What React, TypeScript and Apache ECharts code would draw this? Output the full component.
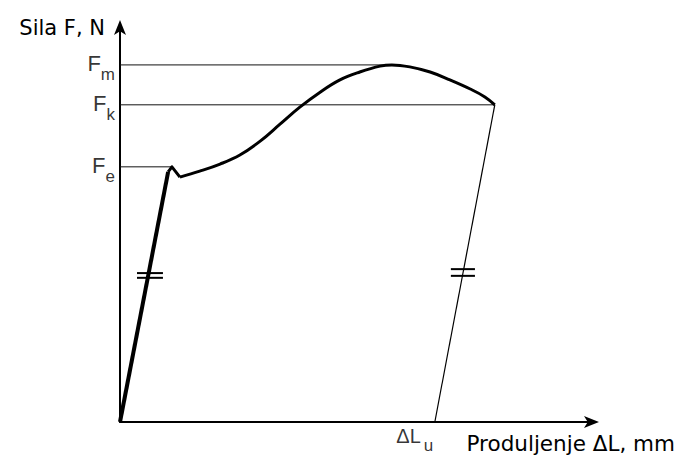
import React, { useEffect, useRef } from "react";
import * as echarts from "echarts";

// Force-elongation diagram (arbitrary units: x = elongation, y = force)
const loadX = [0, 10.2];
const loadY = [0, 63.3];
const yieldX = [10.2, 11.0, 12.7];
const yieldY = [63.3, 64.6, 62.0];
const curveX = [12.7, 16.9, 21.2, 25.4, 29.7, 33.9, 38.1, 42.4, 46.6, 50.8, 55.1, 57.6, 61.4, 65.7, 69.9, 74.2, 77.3, 79.4];
const curveY = [62.0, 63.5, 65.3, 67.6, 71.1, 75.4, 79.7, 83.5, 86.6, 88.6, 90.1, 90.4, 89.9, 88.6, 86.6, 84.3, 82.3, 80.3];
const levelSubs = ["m", "k", "e"];
const levelValues = [90.4, 80.3, 64.6];
const levelEndX = [57.6, 79.4, 11.0];
const unloadX = [79.4, 66.7];
const unloadY = [80.3, 0];
const residualLabel = ["ΔL", "u"];
const loadTickX = [3.6, 9.1];
const loadTickY = [37.7, 36.5];
const unloadTickX = [70.1, 75.2];
const unloadTickY = [38.7, 37.0];
const xAxisName = "Produljenje ΔL, mm";
const yAxisName = "Sila F, N";

const FONT = "Liberation Sans";
const NAME_FONT = "DejaVu Sans";

export default function App() {
  const ref = useRef<HTMLDivElement>(null);
  useEffect(() => {
    if (!ref.current) return;
    const chart = echarts.init(ref.current, null, { renderer: "svg" });
    const zip = (xs: number[], ys: number[]) => xs.map((x, i) => [x, ys[i]]);
    const series: any[] = [];
    levelValues.forEach((v, i) => {
      series.push({
        type: "line",
        data: [[0, v], [levelEndX[i], v]],
        symbol: "none",
        lineStyle: { color: "#111", width: 1 },
        z: 1,
      });
      series.push({
        type: "scatter",
        data: [[0, v]],
        symbolSize: 0,
        label: {
          show: true,
          position: "left",
          distance: 5,
          offset: [0, 3],
          fontFamily: FONT,
          fontSize: 22,
          color: "#000",
          formatter: "{a|F}{b|" + levelSubs[i] + "}",
          rich: {
            a: { fontFamily: FONT, fontSize: 22, color: "#000", verticalAlign: "bottom", padding: [0, 0, 8, 0] },
            b: { fontFamily: FONT, fontSize: 17, color: "#000", verticalAlign: "bottom" },
          },
        },
      });
    });
    series.push({
      type: "line",
      data: zip(loadX, loadY),
      symbol: "none",
      lineStyle: { color: "#000", width: 4 },
      z: 3,
    });
    series.push({
      type: "line",
      data: zip(yieldX, yieldY),
      symbol: "none",
      lineStyle: { color: "#000", width: 3, join: "round" },
      z: 3,
    });
    series.push({
      type: "line",
      data: zip(curveX, curveY),
      symbol: "none",
      smooth: 0.4,
      lineStyle: { color: "#000", width: 3 },
      z: 3,
    });
    series.push({
      type: "line",
      data: zip(unloadX, unloadY),
      symbol: "none",
      lineStyle: { color: "#000", width: 1.2 },
      z: 3,
    });
    loadTickY.forEach((y) => {
      series.push({
        type: "line",
        data: [[loadTickX[0], y], [loadTickX[1], y]],
        symbol: "none",
        lineStyle: { color: "#000", width: 2 },
        z: 4,
      });
    });
    unloadTickY.forEach((y) => {
      series.push({
        type: "line",
        data: [[unloadTickX[0], y], [unloadTickX[1], y]],
        symbol: "none",
        lineStyle: { color: "#000", width: 2 },
        z: 4,
      });
    });
    series.push({
      type: "scatter",
      data: [[unloadX[1], 0]],
      symbolSize: 0,
      label: {
        show: true,
        position: "bottom",
        distance: 3,
        offset: [-20, 1],
        fontFamily: FONT,
        fontSize: 20,
        color: "#000",
        formatter: "{a|" + residualLabel[0] + "}{b|" + residualLabel[1] + "}",
        rich: {
          a: { fontFamily: FONT, fontSize: 20, color: "#000", verticalAlign: "bottom", padding: [0, 3, 8, 0] },
          b: { fontFamily: FONT, fontSize: 17, color: "#000", verticalAlign: "bottom" },
        },
      },
    });

    chart.setOption({
      animation: false,
      backgroundColor: "#fff",
      grid: { left: 120, right: 88, top: 27, bottom: 37 },
      xAxis: {
        type: "value",
        min: 0,
        max: 100,
        name: xAxisName,
        nameLocation: "end",
        nameGap: 83,
        nameTextStyle: {
          fontFamily: NAME_FONT,
          fontSize: 21.5,
          color: "#000",
          align: "right",
          verticalAlign: "top",
          padding: [10, 0, 0, 0],
        },
        axisLine: {
          show: true,
          symbol: ["none", "arrow"],
          symbolSize: [9, 15],
          symbolOffset: [0, 7],
          lineStyle: { color: "#000", width: 2 },
        },
        axisTick: { show: false },
        axisLabel: { show: false },
        splitLine: { show: false },
      },
      yAxis: {
        type: "value",
        min: 0,
        max: 100,
        name: yAxisName,
        nameLocation: "end",
        nameGap: -1,
        nameTextStyle: {
          fontFamily: NAME_FONT,
          fontSize: 21,
          color: "#000",
          align: "right",
          verticalAlign: "middle",
          padding: [0, 15, 0, 0],
        },
        axisLine: {
          show: true,
          symbol: ["none", "arrow"],
          symbolSize: [9, 15],
          symbolOffset: [0, 7],
          lineStyle: { color: "#000", width: 2 },
        },
        axisTick: { show: false },
        axisLabel: { show: false },
        splitLine: { show: false },
      },
      series,
    });
    return () => chart.dispose();
  }, []);
  return (
    <div
      ref={ref}
      style={{ position: "fixed", left: 0, top: 0, width: 680, height: 459, background: "#fff" }}
    />
  );
}
